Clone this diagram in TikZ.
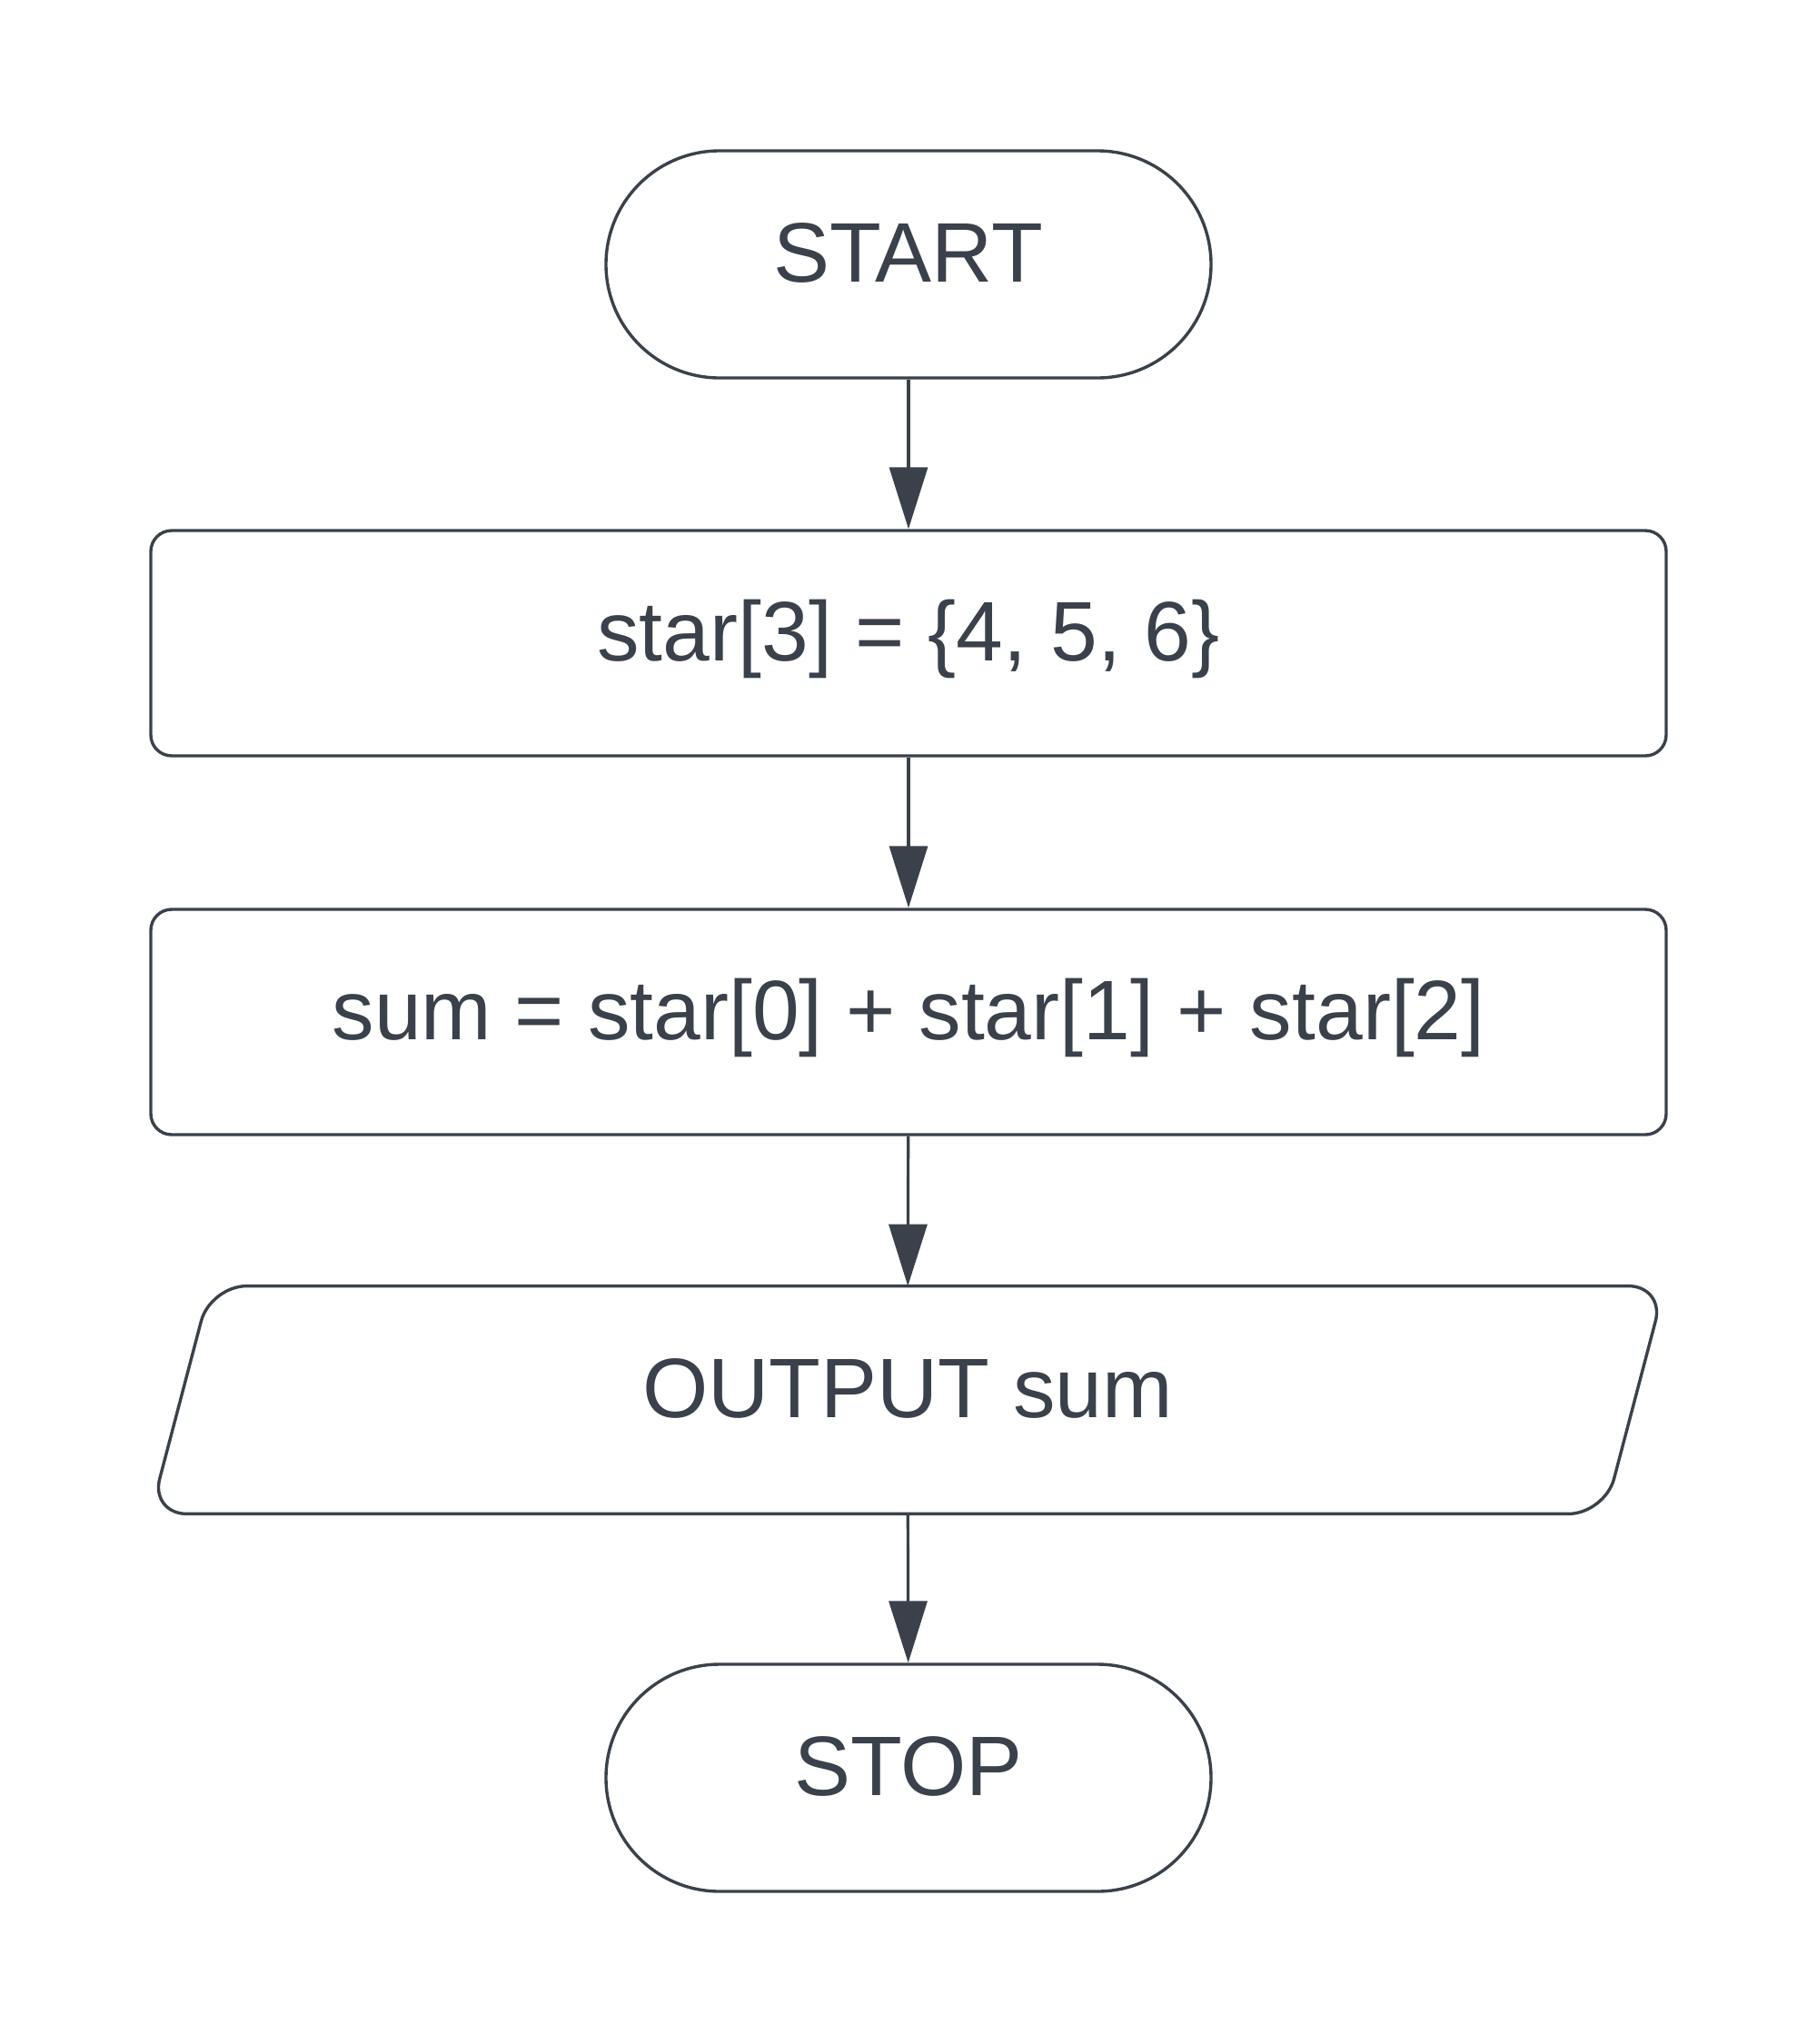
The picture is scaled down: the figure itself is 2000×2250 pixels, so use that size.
\documentclass[tikz,border=0pt]{standalone}
\usepackage{fontspec}
\setmainfont{Liberation Sans}
\usetikzlibrary{arrows.meta,calc}
\definecolor{ink}{RGB}{58,65,74}
\begin{document}
\begin{tikzpicture}[x=0.5pt,y=-0.5pt,
  every node/.style={text=ink,font=\fontsize{46.5pt}{56pt}\selectfont,
    text height=28pt,text depth=9pt,inner sep=0pt},
  terminal/.style={draw=ink,line width=1.7pt,rounded corners=62.5pt,
    minimum width=333pt,minimum height=125pt},
  process/.style={draw=ink,line width=1.7pt,rounded corners=11.5pt,
    minimum width=834pt,minimum height=124pt},
  iobox/.style={minimum width=800pt,minimum height=125pt},
  flow/.style={draw=ink,line width=1.6pt,-{Triangle[length=34pt,width=21pt]}}]
\useasboundingbox[fill=white] (0,0) rectangle (2000,2250);

\node[terminal] (start) at (1000,291) {START};
\node[process] (init) at (1000,708) {star[3] = \{4, 5, 6\}};
\node[process] (add) at (1000,1125) {sum = star[0] + star[1] + star[2]};
\node[iobox] (out) at (999,1541) {OUTPUT sum};
\node[terminal] (stop) at (1000,1957) {STOP};

% slanted input/output box around the OUTPUT node
\draw[ink,line width=1.7pt,rounded corners=20pt]
  ($(out.north west)+(33,0)$) -- ($(out.north east)+(33,0)$) --
  ($(out.south east)+(-33,0)$) -- ($(out.south west)+(-33,0)$) -- cycle;

\draw[flow] (start) -- (init);
\draw[flow] (init) -- (add);
\draw[flow] (add) -- (out);
\draw[flow] (out) -- (stop);
\end{tikzpicture}
\end{document}
